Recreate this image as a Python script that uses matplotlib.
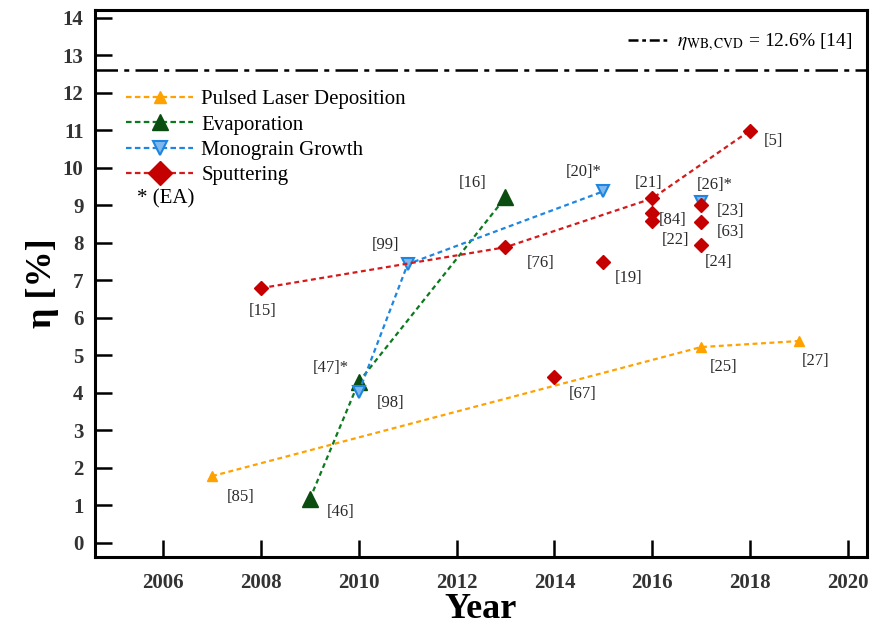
import matplotlib
matplotlib.use("Agg")
import matplotlib.pyplot as plt
from matplotlib.lines import Line2D

plt.rcParams["font.family"] = ["Liberation Serif", "DejaVu Serif"]
plt.rcParams["mathtext.fontset"] = "stix"

# ---- data ------------------------------------------------------------------
pld_year = [2007, 2017, 2019]
pld_eff = [1.78, 5.22, 5.38]
pld_refs = ["[85]", "[25]", "[27]"]

evap_year = [2009, 2010, 2013]
evap_eff = [1.17, 4.29, 9.21]
evap_refs = ["[46]", "[47]*", "[16]"]

mono_year = [2010, 2011, 2015]
mono_eff = [4.02, 7.43, 9.37]
mono_refs = ["[98]", "[99]", "[20]*"]
mono_extra_year = [2017]
mono_extra_eff = [9.08]
mono_extra_refs = ["[26]*"]

sput_year = [2008, 2013, 2016, 2018]
sput_eff = [6.79, 7.88, 9.18, 10.99]
sput_refs = ["[15]", "[76]", "[21]", "[5]"]
sput_extra_year = [2014, 2015, 2016, 2016, 2017, 2017, 2017]
sput_extra_eff = [4.42, 7.48, 8.80, 8.57, 9.00, 8.54, 7.93]
sput_extra_refs = ["[67]", "[19]", "[84]", "[22]", "[23]", "[63]", "[24]"]

wb_cvd = 12.6

# label offsets in pixels (dx right, dy up) from each marker
OFFS = {
    "[85]": (29, -21), "[25]": (22, -20), "[27]": (17, -20),
    "[46]": (31, -13), "[47]*": (-28, 14), "[16]": (-33, 14),
    "[98]": (32, -11), "[99]": (-22, 19), "[20]*": (-20, 19),
    "[26]*": (14, 17),
    "[15]": (2, -23), "[76]": (35, -16), "[21]": (-4, 15), "[5]": (23, -10),
    "[67]": (28, -17), "[19]": (25, -16), "[84]": (20, -7), "[22]": (23, -19),
    "[23]": (29, -6), "[63]": (29, -10), "[24]": (17, -17),
}

C_PLD = "#ffa200"
C_EVAP = "#0b7a1c"
C_EVAP_M = "#0a4d10"
C_MONO = "#1e86e0"
C_SPUT = "#d41a1a"
C_SPUT_M = "#c40000"
DASH = (0, (2.2, 1.6))

fig = plt.figure(figsize=(8.77, 6.32), dpi=100)
ax = fig.add_axes([0.108, 0.119, 0.881, 0.865])

ax.plot(pld_year, pld_eff, ls=DASH, lw=1.6, color=C_PLD, marker="^", ms=7,
        mfc=C_PLD, mec=C_PLD)
ax.plot(evap_year, evap_eff, ls=DASH, lw=1.6, color=C_EVAP, marker="^", ms=11,
        mfc=C_EVAP_M, mec=C_EVAP_M)
ax.plot(mono_year, mono_eff, ls=DASH, lw=1.6, color=C_MONO, marker="v", ms=9,
        mfc="#7fb8ee", mec=C_MONO, mew=1.5)
ax.plot(mono_extra_year, mono_extra_eff, ls="none", marker="v", ms=9,
        mfc="#7fb8ee", mec=C_MONO, mew=1.5)
ax.plot(sput_year, sput_eff, ls=DASH, lw=1.6, color=C_SPUT, marker="D", ms=7,
        mfc=C_SPUT_M, mec=C_SPUT_M)
ax.plot(sput_extra_year, sput_extra_eff, ls="none", marker="D", ms=7,
        mfc=C_SPUT_M, mec=C_SPUT_M)

ax.axhline(wb_cvd, color="black", lw=1.8, ls=(0, (9, 2.5, 2, 2.5)))

groups = [
    (pld_year, pld_eff, pld_refs), (evap_year, evap_eff, evap_refs),
    (mono_year, mono_eff, mono_refs),
    (mono_extra_year, mono_extra_eff, mono_extra_refs),
    (sput_year, sput_eff, sput_refs),
    (sput_extra_year, sput_extra_eff, sput_extra_refs),
]
for xs, ys, refs in groups:
    for x, y, r in zip(xs, ys, refs):
        dx, dy = OFFS[r]
        ax.annotate(r, (x, y), xytext=(dx, dy), textcoords="offset pixels",
                    ha="center", va="center", fontsize=12, color="#2a2a2a")

ax.set_xlim(2004.6, 2020.4)
ax.set_ylim(-0.37, 14.2)
ax.set_xticks(range(2006, 2021, 2))
ax.set_yticks(range(0, 15))
ax.tick_params(direction="in", length=12, width=1.8, labelsize=15, pad=8)
ax.tick_params(axis="x", pad=12)
for lab in ax.get_xticklabels() + ax.get_yticklabels():
    lab.set_fontweight("bold")
    lab.set_color("#333333")
for s in ax.spines.values():
    s.set_linewidth(2.2)

ax.set_xlabel("Year", fontsize=26, fontweight="bold", labelpad=0)
ax.set_ylabel("η [%]", fontsize=26, fontweight="bold", labelpad=3)

handles = [
    Line2D([], [], ls=(0, (2.5, 1.5)), lw=1.6, color=C_PLD, marker="^", ms=8,
           mfc=C_PLD, mec=C_PLD),
    Line2D([], [], ls=(0, (2.5, 1.5)), lw=1.6, color=C_EVAP, marker="^", ms=12,
           mfc=C_EVAP_M, mec=C_EVAP_M),
    Line2D([], [], ls=(0, (2.5, 1.5)), lw=1.6, color=C_MONO, marker="v", ms=10,
           mfc="#7fb8ee", mec=C_MONO, mew=1.5),
    Line2D([], [], ls=(0, (2.5, 1.5)), lw=1.6, color=C_SPUT, marker="D", ms=12,
           mfc=C_SPUT_M, mec=C_SPUT_M),
]
labels = ["Pulsed Laser Deposition", "Evaporation", "Monograin Growth", "Sputtering"]
leg = ax.legend(handles, labels, loc="upper left", bbox_to_anchor=(0.03, 0.870),
                frameon=False, fontsize=15, handlelength=3.2, handletextpad=0.4,
                labelspacing=0.28, borderaxespad=0)
ax.add_artist(leg)
ax.text(0.055, 0.655, "* (EA)", transform=ax.transAxes, fontsize=15,
        va="center", ha="left")

h2 = [Line2D([], [], color="black", lw=1.8, ls=(0, (4, 1.5, 1.5, 1.5)))]
ax.legend(h2, [r"$\eta_{\rm WB,CVD}$ = 12.6% [14]"], loc="upper right",
          bbox_to_anchor=(0.99, 0.975), frameon=False, fontsize=14,
          handlelength=2.0, handletextpad=0.5, borderaxespad=0)

fig.savefig("out.png", dpi=100)
